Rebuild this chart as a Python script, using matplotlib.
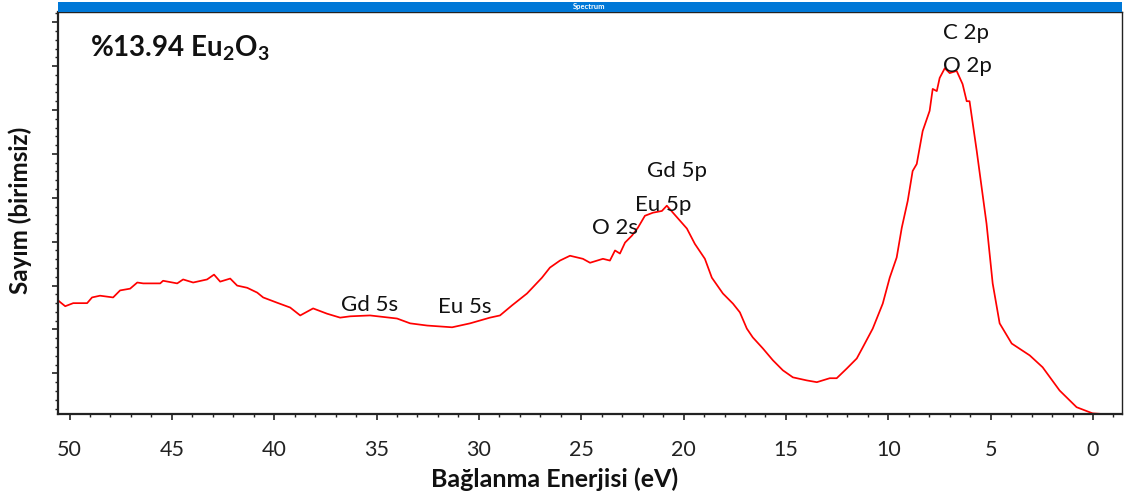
import matplotlib
matplotlib.use('Agg')
import matplotlib.pyplot as plt
from matplotlib.ticker import MultipleLocator, NullFormatter
from matplotlib.patches import Rectangle

# valence band spectrum, binding energy (eV) vs counts
energy = [50.55, 50.45, 50.21, 49.82, 49.14, 48.90, 48.51, 47.87, 47.53, 47.04,
          46.69, 46.40, 45.57, 45.43, 44.74, 44.45, 43.96, 43.28, 42.94, 42.64,
          42.15, 41.81, 41.32, 40.83, 40.54, 39.86, 39.22, 38.73, 38.10, 37.42,
          36.78, 36.29, 35.32, 34.00, 33.36, 32.53, 31.31, 30.43, 29.46, 28.97,
          28.38, 27.65, 26.92, 26.53, 26.04, 25.55, 24.92, 24.57, 23.94, 23.60,
          23.35, 23.11, 22.86, 22.52, 22.23, 21.89, 21.50, 21.06, 20.82, 20.52,
          20.18, 19.84, 19.45, 18.96, 18.62, 18.08, 17.59, 17.25, 16.91, 16.62,
          16.13, 15.64, 15.15, 14.66, 13.98, 13.49, 12.86, 12.52, 12.03, 11.54,
          11.25, 10.76, 10.27, 9.93, 9.59, 9.34, 9.05, 8.81, 8.61, 8.32,
          7.98, 7.83, 7.63, 7.49, 7.24, 7.00, 6.66, 6.37, 6.17, 6.03,
          5.68, 5.20, 4.90, 4.56, 3.97, 3.09, 2.46, 1.63, 0.80, 0.02, -0.96]
counts = [2660, 2620, 2530, 2600, 2600, 2730, 2770, 2730, 2890, 2930,
          3070, 3050, 3050, 3110, 3050, 3140, 3070, 3140, 3250, 3090,
          3160, 3000, 2950, 2840, 2730, 2610, 2500, 2320, 2480, 2360,
          2270, 2300, 2320, 2250, 2140, 2090, 2050, 2140, 2270, 2320,
          2550, 2820, 3180, 3410, 3570, 3680, 3610, 3520, 3610, 3570,
          3800, 3730, 3980, 4140, 4320, 4590, 4660, 4700, 4820, 4660,
          4480, 4300, 3950, 3610, 3180, 2820, 2590, 2390, 2020, 1820,
          1570, 1300, 1070, 910, 840, 800, 890, 890, 1110, 1340,
          1590, 2020, 2590, 3180, 3640, 4320, 4930, 5610, 5770, 6520,
          6980, 7480, 7430, 7730, 7950, 7840, 7890, 7590, 7200, 7200,
          6070, 4410, 3050, 2140, 1680, 1410, 1140, 610, 230, 90, 60]

peak_names = ['C 2p', 'O 2p', 'Gd 5p', 'Eu 5p', 'O 2s', 'Gd 5s', 'Eu 5s']
x_ticks = [50, 45, 40, 35, 30, 25, 20, 15, 10, 5, 0]

FONT = 'Lato'
plt.rcParams['font.family'] = [FONT, 'DejaVu Sans']
plt.rcParams['mathtext.fontset'] = 'custom'
plt.rcParams['mathtext.rm'] = 'Lato:bold'
plt.rcParams['mathtext.it'] = 'Lato:bold'
plt.rcParams['mathtext.bf'] = 'Lato:bold'

fig = plt.figure(figsize=(11.27, 5.0), dpi=100)
ax = fig.add_axes([0.0517, 0.172, 0.9439, 0.8034])

ax.plot(energy, counts, color='#ff0000', lw=1.25)
ax.set_xlim(50.55, -1.42)
ax.set_ylim(75, 9225)

ax.xaxis.set_major_locator(MultipleLocator(5))
ax.xaxis.set_minor_locator(MultipleLocator(1))
ax.set_xticks(x_ticks)
ax.set_xticklabels([str(t) for t in x_ticks])
ax.yaxis.set_major_locator(MultipleLocator(1000))
ax.yaxis.set_minor_locator(MultipleLocator(200))
ax.yaxis.set_major_formatter(NullFormatter())

ax.tick_params(axis='both', which='major', direction='out', length=4, width=1.2,
               color='#222')
ax.tick_params(axis='both', which='minor', direction='out', length=2.2, width=1.0,
               color='#222')
ax.tick_params(axis='x', labelsize=15.5, pad=15, labelcolor='#222')

for s in ('left', 'bottom'):
    ax.spines[s].set_linewidth(1.6)
    ax.spines[s].set_color('#222')
for s in ('top', 'right'):
    ax.spines[s].set_linewidth(1.0)
    ax.spines[s].set_color('#222')

# peak labels (baseline-anchored)
label_pos = [(6.21, 8615), (6.12, 7863), (20.30, 5478), (21.01, 4704),
             (23.35, 4173), (35.32, 2426), (30.68, 2380)]
for name, (lx, ly) in zip(peak_names, label_pos):
    ax.text(lx, ly, name, fontsize=16, ha='center', va='baseline', color='#111')

ax.text(0.0298, 0.891, r'%13.94 Eu$_2$O$_3$', transform=ax.transAxes,
        fontsize=20, fontweight='bold', ha='left', va='baseline', color='#111')

# title strip above the plot
fig.patches.append(Rectangle((0.0517, 0.9754), 0.9439, 0.0206, transform=fig.transFigure,
                             facecolor='#0078d7', edgecolor='none'))
fig.text(0.523, 0.986, 'Spectrum', fontsize=5.5, fontweight='bold', color='white',
         ha='center', va='center')

fig.text(0.4925, 0.026, 'Bağlanma Enerjisi (eV)', fontsize=18, fontweight='bold',
         ha='center', va='baseline', color='#111')
fig.text(0.0177, 0.58, 'Sayım (birimsiz)', fontsize=17.5, fontweight='bold',
         rotation=90, ha='center', va='center', color='#111')

fig.savefig('out.png', dpi=100, facecolor='white')
